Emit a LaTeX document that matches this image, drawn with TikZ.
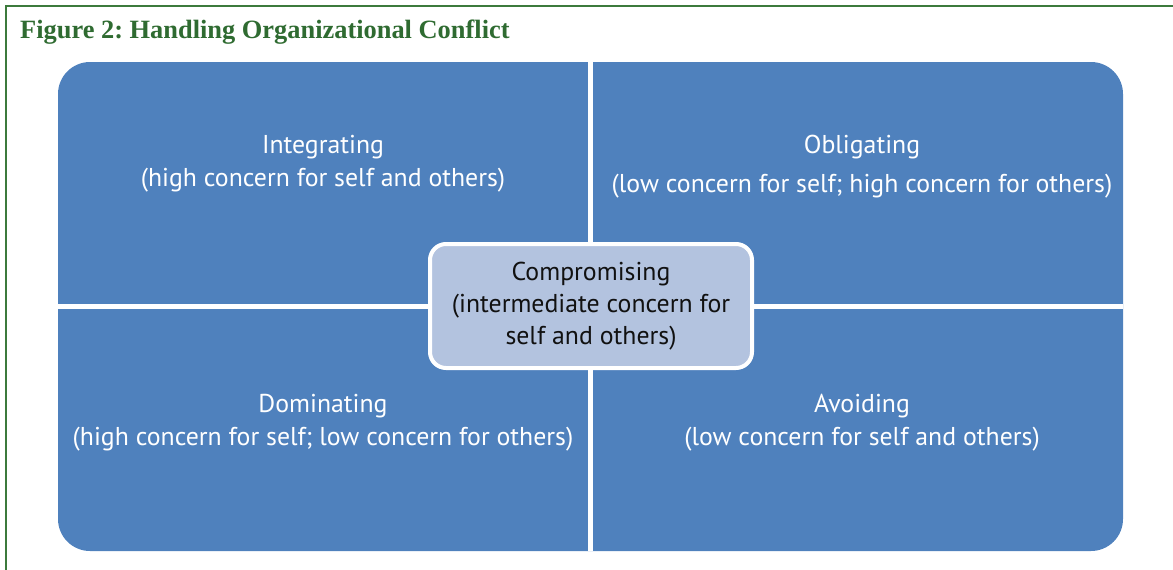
\documentclass[tikz,border=0pt]{standalone}
\usepackage{fontspec}
\setmainfont{Liberation Serif}
\newfontfamily\quadfont{PT Sans}
\usepackage{tikz}
\usetikzlibrary{positioning,calc}
\frenchspacing
\definecolor{frame}{HTML}{3C7A3C}
\definecolor{titlegreen}{HTML}{2F6B31}
\definecolor{quadblue}{HTML}{4F81BD}
\definecolor{compbg}{HTML}{B3C3DF}
\definecolor{ink}{HTML}{111111}
\tikzset{
  grid/.style={rectangle,rounded corners=32pt,fill=quadblue,inner sep=0pt,
    minimum width=1065pt,minimum height=489pt},
  gap/.style={draw=white,line width=4.5pt},
  quad/.style={align=center,text=white,inner sep=0pt,
    font=\quadfont\fontsize{25.8}{33}\selectfont},
  comp/.style={rectangle,rounded corners=16pt,draw=white,line width=4pt,fill=compbg,
    align=center,text=ink,minimum width=322pt,minimum height=124pt,
    font=\quadfont\fontsize{25.8}{32}\selectfont},
  ttl/.style={anchor=base west,inner sep=0pt,text=titlegreen,
    font=\bfseries\fontsize{26.4}{28}\selectfont},
}
\begin{document}
\begin{tikzpicture}[x=1pt,y=-1pt]
  \useasboundingbox (0,0) rectangle (1173,570);
  \draw[frame,line width=1.5pt] (6,570) -- (6,6) -- (1173,6);
  \node[ttl] (title) at (20,38) {Figure 2: Handling Organizational Conflict};
  \node[grid] (grid) at (590.5,306.5) {};
  \draw[gap] (grid.north) -- (grid.south);
  \draw[gap] (grid.west) -- (grid.east);
  \node[quad] (integ) at (323,164) {Integrating\\(high concern for self and others)};
  \node[quad] (oblig) at (862,167) {Obligating\\[6pt](low concern for self; high concern for others)};
  \node[quad] (domin) at (323,423) {Dominating\\(high concern for self; low concern for others)};
  \node[quad] (avoid) at (862,423) {Avoiding\\(low concern for self and others)};
  \node[comp] (compr) at (591,306) {Compromising\\(intermediate concern for\\self and others)};
\end{tikzpicture}
\end{document}
